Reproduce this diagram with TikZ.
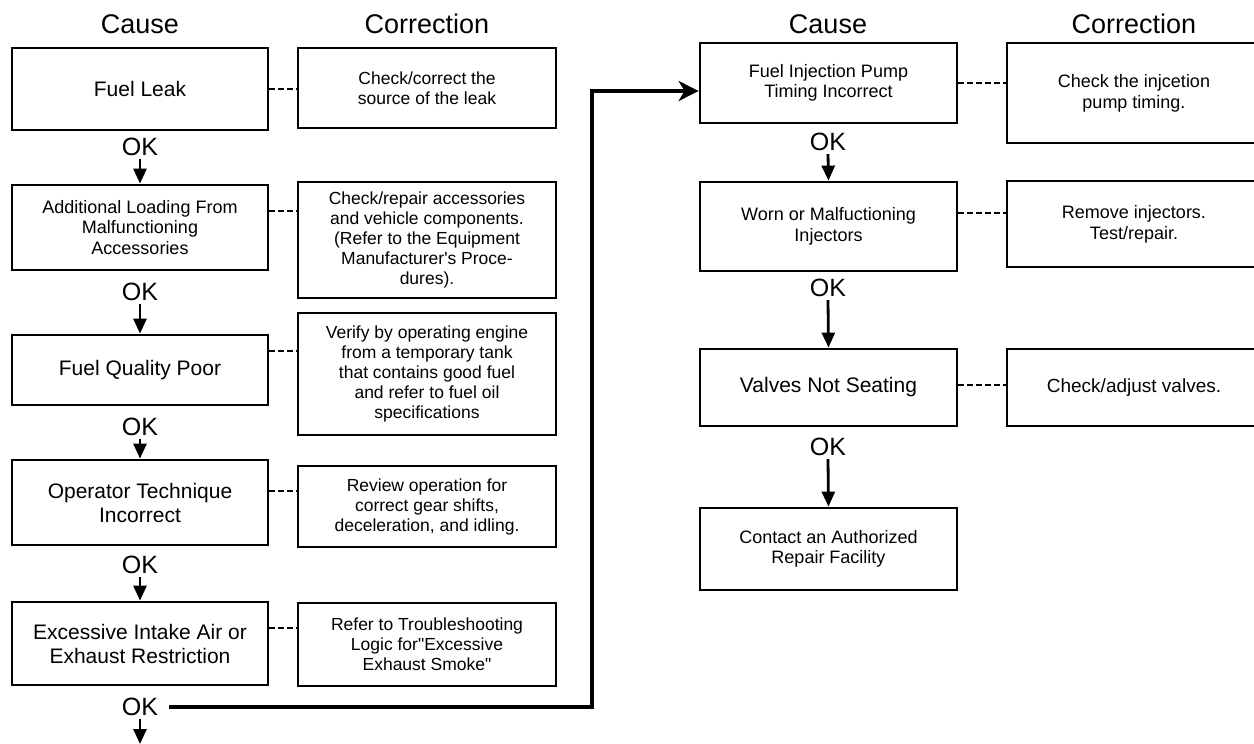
\documentclass[tikz,border=0pt]{standalone}
\usepackage{fontspec}
\setmainfont{Liberation Sans}
\usetikzlibrary{arrows.meta, calc}

\begin{document}
\begin{tikzpicture}[x=1pt, y=-1pt,
  colhead/.style={font=\fontsize{27}{30}\selectfont},
  cause/.style={draw, line width=2.8pt, minimum width=256pt, align=center, inner sep=2pt},
  bigtxt/.style={font=\fontsize{21}{24}\selectfont},
  smalltxt/.style={font=\fontsize{18}{20.5}\selectfont},
  fixbox/.style={draw, line width=2pt, minimum width=258pt, align=center, inner sep=2pt, font=\fontsize{17.5}{20}\selectfont},
  okl/.style={font=\fontsize{25}{28}\selectfont, inner sep=3pt},
  down/.style={-{Triangle[length=15pt,width=13pt]}, line width=2.8pt},
  link/.style={dash pattern=on 6pt off 3pt, line width=2pt},
  loopback/.style={-{Stealth[length=20pt,width=20pt,inset=6pt]}, line width=4pt}
]
\useasboundingbox (0,0) rectangle (1254,744);
\clip (0,0) rectangle (1254,744);

\node[colhead] (hc1) at (140,24) {Cause};
\node[colhead] (hk1) at (427,24) {Correction};
\node[colhead] (hc2) at (828,24) {Cause};
\node[colhead] (hk2) at (1134,24) {Correction};

\node[cause, bigtxt, minimum height=82pt] (c1) at (140,89) {Fuel Leak};
\node[cause, smalltxt, minimum height=85pt] (c2) at (140,227.5) {Additional Loading From\\Malfunctioning\\Accessories};
\node[cause, bigtxt, minimum height=70pt] (c3) at (140,370) {Fuel Quality Poor};
\node[cause, bigtxt, minimum height=85pt] (c4) at (140,502.5) {Operator Technique\\Incorrect};
\node[cause, bigtxt, minimum height=83pt] (c5) at (140,643.5) {Excessive Intake Air or\\Exhaust Restriction};

\node[fixbox, minimum height=80pt] (k1) at (427,88) {Check/correct the\\source of the leak};
\node[fixbox, minimum height=116pt] (k2) at (427,240) {Check/repair accessories\\and vehicle components.\\(Refer to the Equipment\\Manufacturer\textquotesingle s Proce-\\dures).};
\node[fixbox, minimum height=122pt] (k3) at (427,374) {Verify by operating engine\\from a temporary tank\\that contains good fuel\\and refer to fuel oil\\specifications};
\node[fixbox, minimum height=81pt] (k4) at (427,506.5) {Review operation for\\correct gear shifts,\\deceleration, and idling.};
\node[fixbox, minimum height=83pt] (k5) at (427,644.5) {Refer to Troubleshooting\\Logic for\textquotedbl Excessive\\Exhaust Smoke\textquotedbl};

\node[okl] (ok1) at (140,147) {OK};
\node[okl] (ok2) at (140,292) {OK};
\node[okl] (ok3) at (140,427) {OK};
\node[okl] (ok4) at (140,565) {OK};
\node[okl] (ok5) at (140,707) {OK};

\node[cause, smalltxt, minimum width=257pt, minimum height=80pt] (r1) at (828.5,83) {Fuel Injection Pump\\Timing Incorrect};
\node[cause, smalltxt, minimum width=257pt, minimum height=89pt] (r2) at (828.5,226.5) {Worn or Malfuctioning\\Injectors};
\node[cause, bigtxt, minimum width=257pt, minimum height=77pt] (r3) at (828.5,387.5) {Valves Not Seating};
\node[cause, smalltxt, minimum width=257pt, minimum height=82pt] (r4) at (828.5,549) {Contact an Authorized\\Repair Facility};

\node[fixbox, font=\fontsize{18}{21}\selectfont, minimum width=254pt, minimum height=100pt] (q1) at (1134,93) {Check the injcetion\\pump timing.};
\node[fixbox, font=\fontsize{18}{21}\selectfont, minimum width=254pt, minimum height=86pt] (q2) at (1134,224) {Remove injectors.\\Test/repair.};
\node[fixbox, font=\fontsize{19}{22}\selectfont, minimum width=254pt, minimum height=77pt] (q3) at (1134,387.5) {Check/adjust valves.};

\node[okl] (okr1) at (828,142) {OK};
\node[okl] (okr2) at (828,288) {OK};
\node[okl] (okr3) at (828,447) {OK};

\foreach \o/\n in {ok1/c2, ok2/c3, ok3/c4, ok4/c5, okr1/r2, okr2/r3, okr3/r4}
  \draw[down] (\o.south) -- (\n.north);

\foreach \a/\b/\s in {c1/k1/0, c2/k2/17, c3/k3/19, c4/k4/12, c5/k5/16, r1/q1/0, r2/q2/14, r3/q3/3}
  \draw[link] ([yshift=\s pt]\a.east) coordinate (t) -- (t -| \b.west);

\coordinate (exit) at (140,744);
\coordinate (bend) at (592,91);
\draw[down] (ok5.south) -- (exit);
\draw[loopback] ([xshift=8pt]ok5.east) -| (bend) -- (bend -| r1.west);
\end{tikzpicture}
\end{document}
